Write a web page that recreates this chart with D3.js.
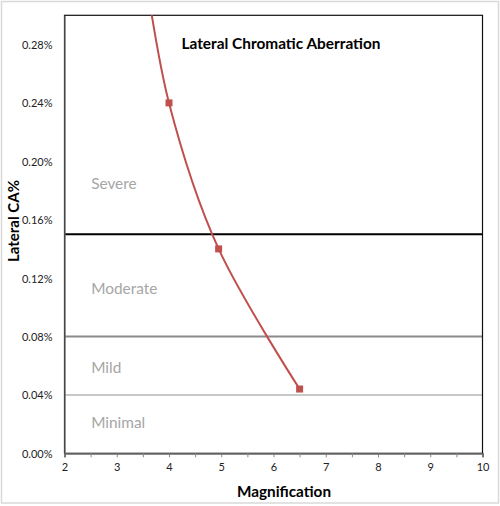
<!DOCTYPE html>
<html>
<head>
<meta charset="UTF-8">
<script src="https://cdn.jsdelivr.net/npm/d3@7/dist/d3.min.js"></script>
<style>
body{
    margin:0;
    background-color:#fff;
    font-family: Lato, "Open Sans", sans-serif;
}
.axis text{
    fill:#222;
    font-size:11px;
    font-family: Lato, "Open Sans", sans-serif;
}
</style>
</head>
<body>
<script>

// magnification vs lateral CA (first point sits above the plot, clipped)
var magnification = [3.5, 4, 4.95, 6.5];
var lateralCA = [0.0034, 0.0024, 0.0014, 0.00044];

var thresholds = [0.0015, 0.0008, 0.0004];
var thresholdColors = ["#000000", "#8a8a8a", "#c8c8c8"];

var zoneNames = ["Severe", "Moderate", "Mild", "Minimal"];
var zoneLevels = [0.00185, 0.00113, 0.00059, 0.00021];

var xTicks = [2, 3, 4, 5, 6, 7, 8, 9, 10];
var xMinorTicks = [2.5, 3.5, 4.5, 5.5, 6.5, 7.5, 8.5, 9.5];
var yTicks = [0, 0.0004, 0.0008, 0.0012, 0.0016, 0.002, 0.0024, 0.0028];

var width = 500,
    height = 506,
    plot = {left: 64.5, right: 482.5, top: 15.3, bottom: 453.3};

var x = d3.scaleLinear().domain([2, 10]).range([plot.left, plot.right]);
var y = d3.scaleLinear().domain([0, 0.003]).range([plot.bottom, plot.top]);

var svg = d3.select("body").append("svg")
    .attr("width", width)
    .attr("height", height);

// outer chart border
svg.append("rect")
    .attr("x", 1.5).attr("y", 1.5)
    .attr("width", 497).attr("height", 501.5)
    .attr("fill", "white")
    .attr("stroke", "#d9d9d9")
    .attr("stroke-width", 1.5);

svg.append("clipPath").attr("id", "plotClip")
  .append("rect")
    .attr("x", plot.left).attr("y", plot.top)
    .attr("width", plot.right - plot.left)
    .attr("height", plot.bottom - plot.top);

// threshold lines
svg.selectAll(".threshold")
    .data(thresholds)
    .enter().append("line")
    .attr("class", "threshold")
    .attr("x1", x(2)).attr("x2", x(10))
    .attr("y1", function(d){ return y(d); })
    .attr("y2", function(d){ return y(d); })
    .attr("stroke", function(d, i){ return thresholdColors[i]; })
    .attr("stroke-width", 2);

// zone labels
svg.selectAll(".zone")
    .data(zoneNames)
    .enter().append("text")
    .attr("class", "zone")
    .attr("x", x(2.5) + 0.5)
    .attr("y", function(d, i){ return y(zoneLevels[i]); })
    .attr("dy", "0.36em")
    .attr("font-size", 15.4)
    .attr("fill", "#a6a6a6")
    .text(function(d){ return d; });

// plot frame
svg.append("rect")
    .attr("x", plot.left).attr("y", plot.top)
    .attr("width", plot.right - plot.left)
    .attr("height", plot.bottom - plot.top)
    .attr("fill", "none")
    .attr("stroke", "#111")
    .attr("stroke-width", 1.2);

var gX = svg.append("g")
    .attr("class", "axis")
    .attr("transform", "translate(0," + plot.bottom + ")")
    .call(d3.axisBottom(x).tickValues(xTicks).tickSize(4).tickPadding(6).tickFormat(d3.format("d")));

svg.append("g")
    .attr("class", "axis")
    .attr("transform", "translate(0," + plot.bottom + ")")
    .call(d3.axisBottom(x).tickValues(xMinorTicks).tickSize(4).tickFormat(""));

var gY = svg.append("g")
    .attr("class", "axis")
    .attr("transform", "translate(" + plot.left + ",0)")
    .call(d3.axisLeft(y).tickValues(yTicks).tickSize(0).tickPadding(12).tickFormat(d3.format(".2%")));

svg.selectAll(".axis path").attr("stroke", "#666").attr("stroke-width", 1.3);
svg.selectAll(".axis line").attr("stroke", "#888");
gX.selectAll(".tick text").attr("font-size", 11.5);
gY.selectAll(".tick text").attr("dy", "0.36em");

// series
var pts = magnification.map(function(m, i){ return [m, lateralCA[i]]; });

var series = svg.append("g").attr("clip-path", "url(#plotClip)");

series.append("path")
    .datum(pts)
    .attr("fill", "none")
    .attr("stroke", "#c0504d")
    .attr("stroke-width", 2)
    .attr("d", d3.line()
        .x(function(d){ return x(d[0]); })
        .y(function(d){ return y(d[1]); })
        .curve(d3.curveCatmullRom.alpha(0)));

series.selectAll(".pt")
    .data(pts)
    .enter().append("rect")
    .attr("class", "pt")
    .attr("x", function(d){ return x(d[0]) - 3.5; })
    .attr("y", function(d){ return y(d[1]) - 3.5; })
    .attr("width", 7).attr("height", 7)
    .attr("fill", "#c0504d");

// titles
svg.append("text")
    .attr("x", 281)
    .attr("y", 48.5)
    .attr("text-anchor", "middle")
    .attr("font-size", 15.4)
    .attr("font-weight", "bold")
    .attr("fill", "#000")
    .text("Lateral Chromatic Aberration");

svg.append("text")
    .attr("x", 284)
    .attr("y", 497)
    .attr("text-anchor", "middle")
    .attr("font-size", 15.3)
    .attr("font-weight", "bold")
    .attr("fill", "#000")
    .text("Magnification");

svg.append("text")
    .attr("transform", "translate(19,221) rotate(-90)")
    .attr("text-anchor", "middle")
    .attr("font-size", 15)
    .attr("font-weight", "bold")
    .attr("fill", "#000")
    .text("Lateral CA%");

</script>
</body>
</html>
